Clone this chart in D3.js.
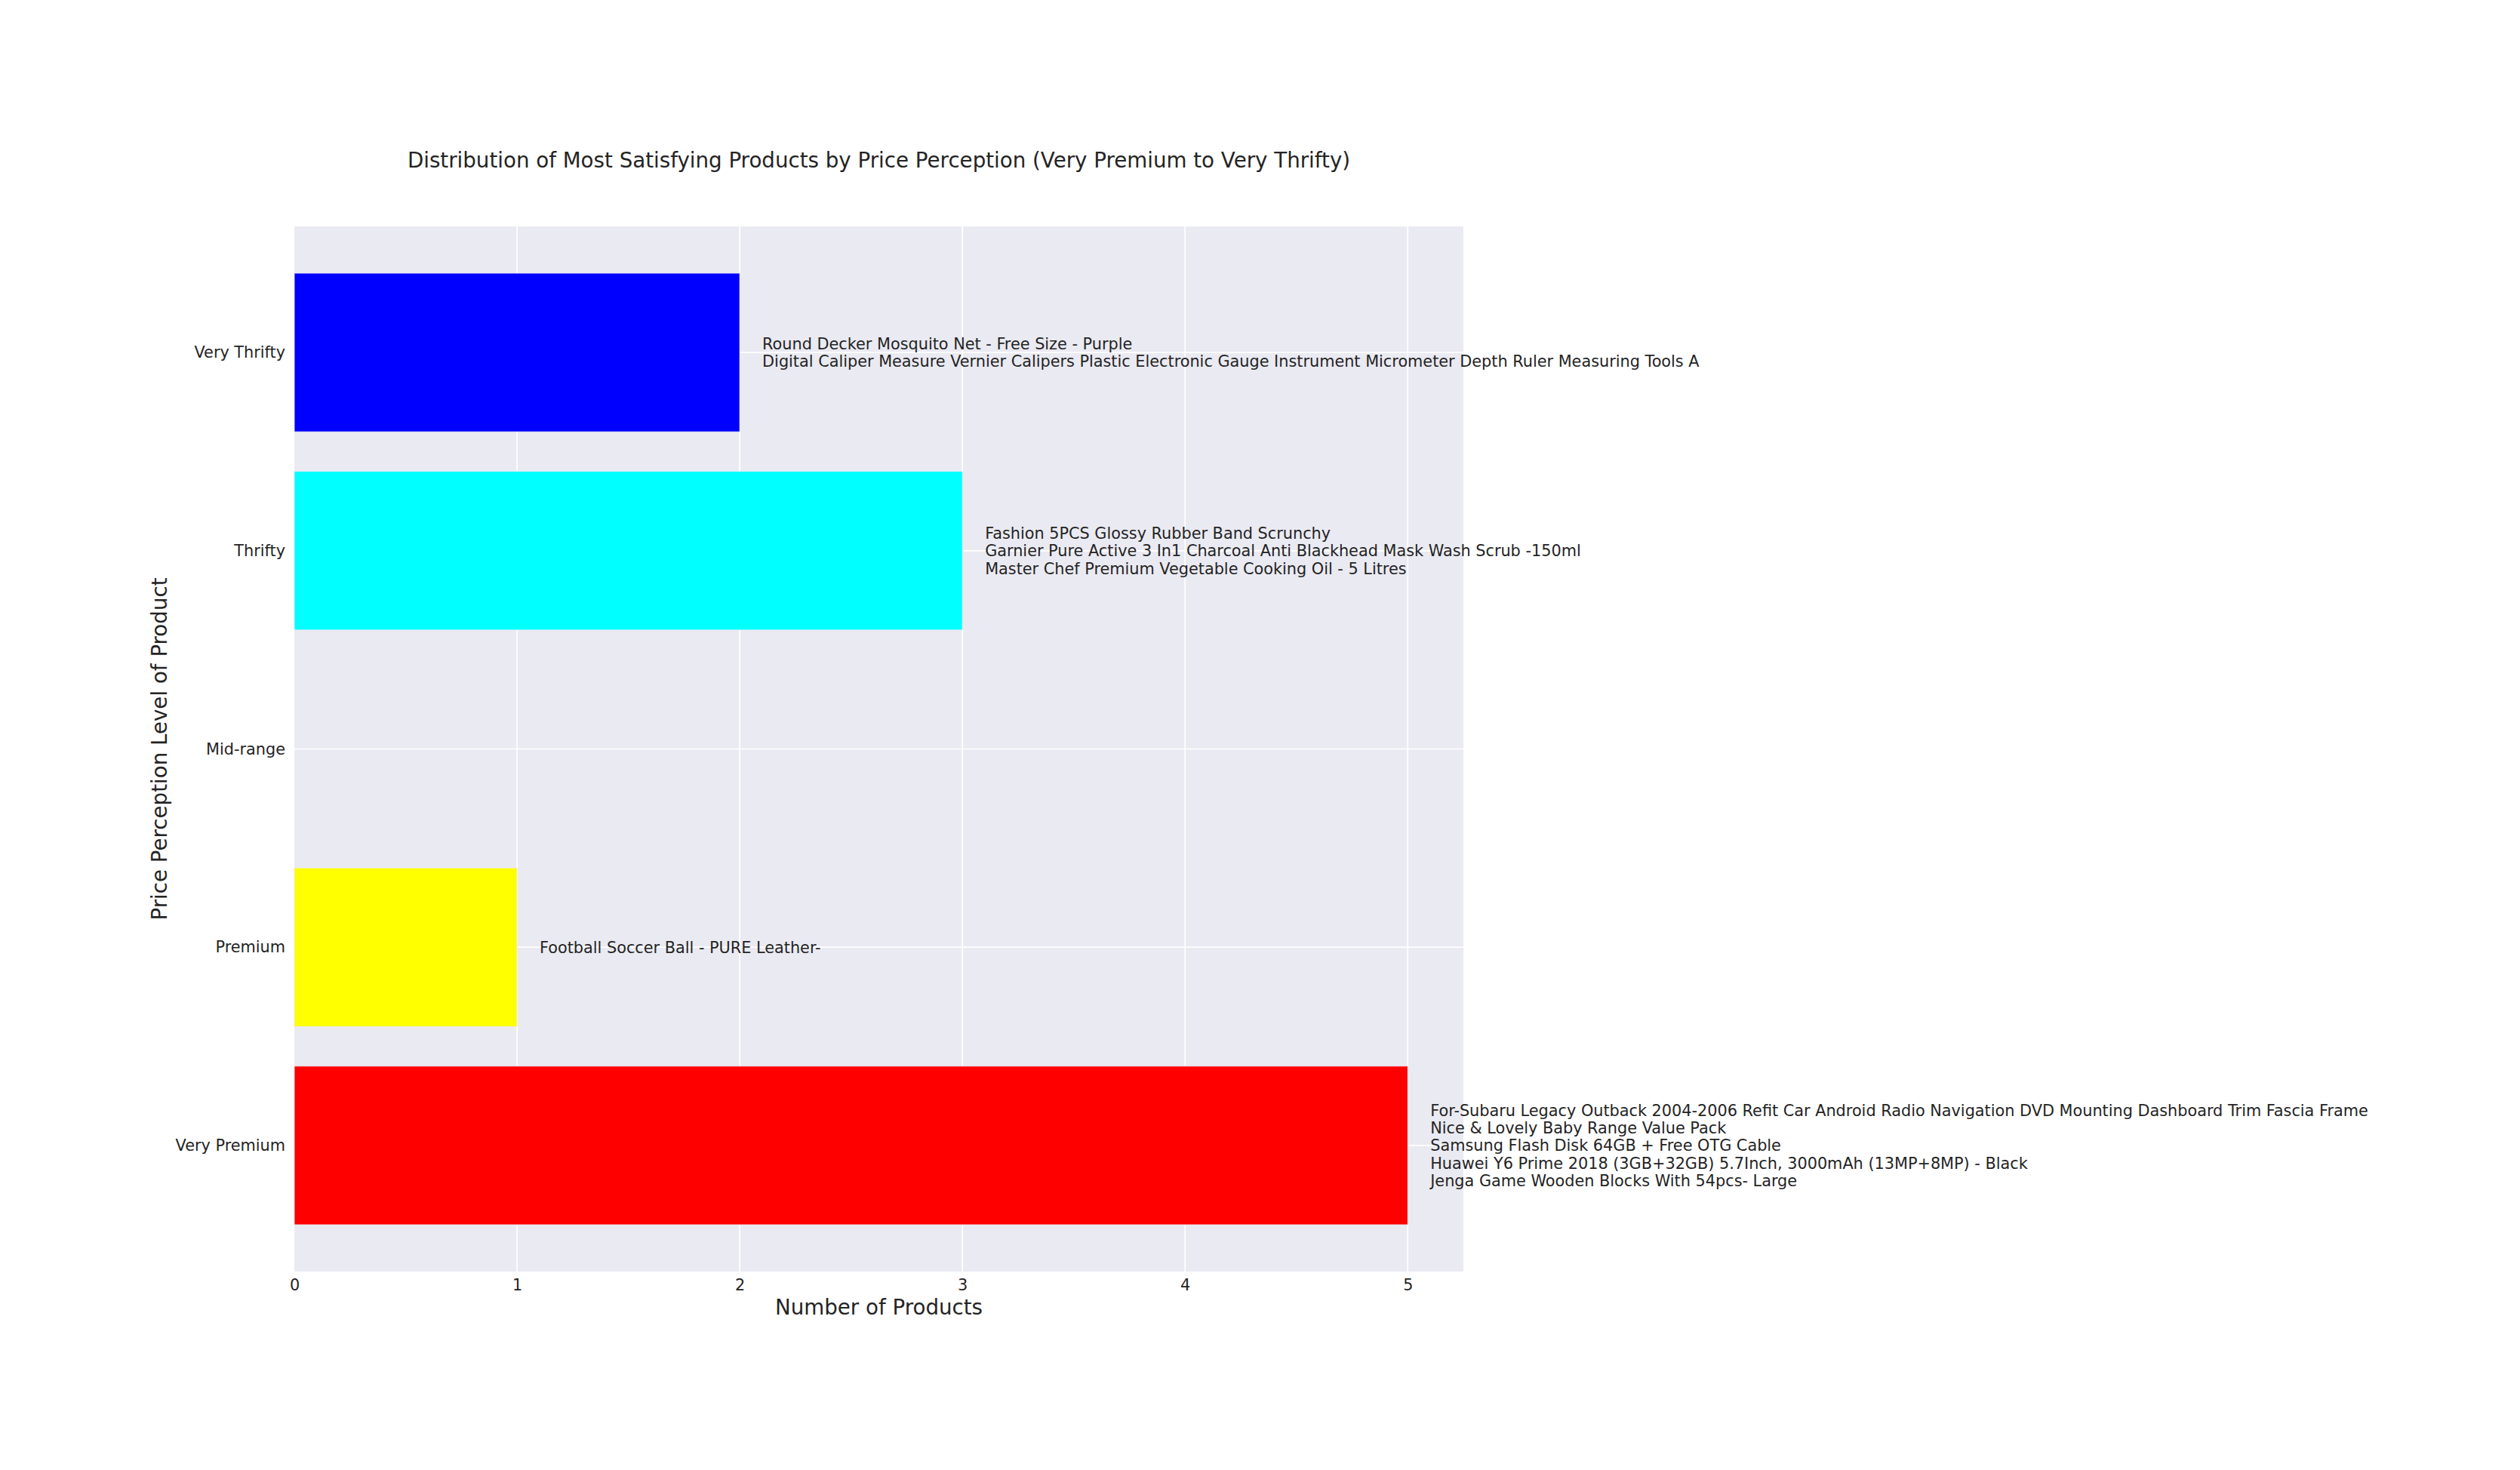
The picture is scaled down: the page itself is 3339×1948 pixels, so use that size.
<!DOCTYPE html>
<html>
<head>
<meta charset="utf-8">
<script src="https://cdn.jsdelivr.net/npm/d3@7"></script>
<style>
  html, body { margin: 0; padding: 0; background: #ffffff; }
  svg { display: block; }
  text { font-family: "DejaVu Sans", sans-serif; fill: #242424; }
</style>
</head>
<body>
<script>
// ---- data ----
const categories = ["Very Premium", "Premium", "Mid-range", "Thrifty", "Very Thrifty"];
const counts = [5, 1, 0, 3, 2];
const barColors = ["#ff0000", "#ffff00", "#00ff00", "#00ffff", "#0000ff"];
const products = [
  ["For-Subaru Legacy Outback 2004-2006 Refit Car Android Radio Navigation DVD Mounting Dashboard Trim Fascia Frame",
   "Nice & Lovely Baby Range Value Pack",
   "Samsung Flash Disk 64GB + Free OTG Cable",
   "Huawei Y6 Prime 2018 (3GB+32GB) 5.7Inch, 3000mAh (13MP+8MP) - Black",
   "Jenga Game Wooden Blocks With 54pcs- Large"],
  ["Football Soccer Ball - PURE Leather-"],
  [],
  ["Fashion 5PCS Glossy Rubber Band Scrunchy",
   "Garnier Pure Active 3 In1 Charcoal Anti Blackhead Mask Wash Scrub -150ml",
   "Master Chef Premium Vegetable Cooking Oil - 5 Litres"],
  ["Round Decker Mosquito Net - Free Size - Purple",
   "Digital Caliper Measure Vernier Calipers Plastic Electronic Gauge Instrument Micrometer Depth Ruler Measuring Tools A"]
];
const xTicks = [0, 1, 2, 3, 4, 5];
const titleText = "Distribution of Most Satisfying Products by Price Perception (Very Premium to Very Thrifty)";
const xTitle = "Number of Products";
const yTitle = "Price Perception Level of Product";

// ---- layout ----
const W = 3339, H = 1948;
const plot = { left: 390, right: 1939, top: 300, bottom: 1685 };
const tickFont = 20.8, titleFont = 27.7, axisTitleFont = 27.7, annFont = 20.8;

const svg = d3.select("body").append("svg").attr("width", W).attr("height", H);
svg.append("rect").attr("width", W).attr("height", H).attr("fill", "#ffffff");

const x = d3.scaleLinear().domain([0, 5.25]).range([plot.left, plot.right]);
const y = d3.scaleLinear().domain([-0.636, 4.636]).range([plot.bottom, plot.top]);
const step = Math.abs(y(1) - y(0));
const barH = step * 0.8;

// plot background
svg.append("rect")
  .attr("x", plot.left).attr("y", plot.top)
  .attr("width", plot.right - plot.left).attr("height", plot.bottom - plot.top)
  .attr("fill", "#eaeaf2");

// grid
const grid = svg.append("g");
grid.selectAll("line.v").data(xTicks.filter(d => d > 0)).enter().append("line")
  .attr("x1", d => x(d)).attr("x2", d => x(d))
  .attr("y1", plot.top).attr("y2", plot.bottom)
  .attr("stroke", "#ffffff").attr("stroke-width", 1.7);
grid.selectAll("line.h").data(categories).enter().append("line")
  .attr("x1", plot.left).attr("x2", plot.right)
  .attr("y1", (d, i) => y(i)).attr("y2", (d, i) => y(i))
  .attr("stroke", "#ffffff").attr("stroke-width", 1.7);

// bars
svg.append("g").selectAll("rect").data(categories).enter()
  .filter((d, i) => counts[i] > 0)
  .append("rect")
  .attr("x", x(0))
  .attr("y", d => y(categories.indexOf(d)) - barH / 2)
  .attr("width", d => x(counts[categories.indexOf(d)]) - x(0))
  .attr("height", barH)
  .attr("fill", d => barColors[categories.indexOf(d)])
  .attr("stroke", "#eaeaf2").attr("stroke-width", 0.85);

// annotations (product names)
const lineH = 23.3;
const ann = svg.append("g");
categories.forEach((c, i) => {
  const lines = products[i];
  if (!lines.length) return;
  const cy = y(i);
  const t = ann.append("text")
    .attr("x", x(counts[i]) + 30)
    .attr("y", cy)
    .attr("font-size", annFont);
  lines.forEach((ln, k) => {
    t.append("tspan")
      .attr("x", x(counts[i]) + 30)
      .attr("y", cy + (k - (lines.length - 1) / 2) * lineH)
      .attr("dy", "0.36em")
      .text(ln);
  });
});

// y axis tick labels
const yAxis = d3.axisLeft(y).tickValues(d3.range(categories.length))
  .tickFormat(i => categories[i]).tickSize(0).tickPadding(12);
const gy = svg.append("g").attr("transform", `translate(${plot.left},0)`).call(yAxis);
gy.select(".domain").remove();
gy.selectAll("text").attr("font-size", tickFont).attr("fill", "#242424")
  .attr("font-family", "DejaVu Sans, sans-serif");

// x axis tick labels
const xAxis = d3.axisBottom(x).tickValues(xTicks).tickFormat(d3.format("d")).tickSize(0).tickPadding(10.5);
const gx = svg.append("g").attr("transform", `translate(0,${plot.bottom})`).call(xAxis);
gx.select(".domain").remove();
gx.selectAll("text").attr("font-size", tickFont).attr("fill", "#242424")
  .attr("font-family", "DejaVu Sans, sans-serif");

// titles
const midX = (plot.left + plot.right) / 2;
svg.append("text").attr("x", midX).attr("y", 222)
  .attr("text-anchor", "middle").attr("font-size", titleFont).text(titleText);
svg.append("text").attr("x", midX).attr("y", 1742)
  .attr("text-anchor", "middle").attr("font-size", axisTitleFont).text(xTitle);
svg.append("text")
  .attr("transform", `translate(221,${(plot.top + plot.bottom) / 2}) rotate(-90)`)
  .attr("text-anchor", "middle").attr("font-size", axisTitleFont).text(yTitle);
</script>
</body>
</html>
